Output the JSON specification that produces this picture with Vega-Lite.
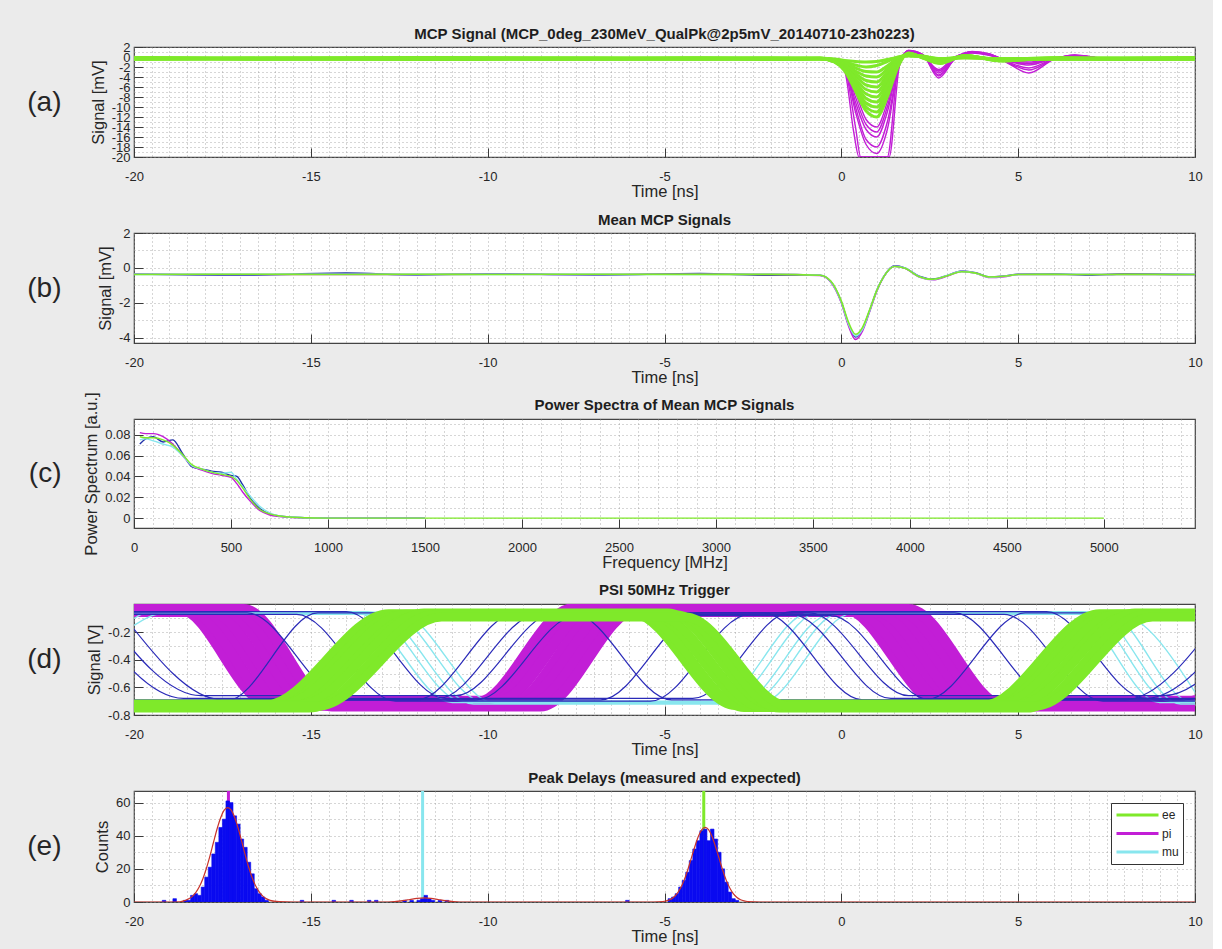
{
"$schema": "https://vega.github.io/schema/vega-lite/v6.json",
"background": "#ebebeb",
"padding": {"left": 26, "top": 26, "right": 10, "bottom": 5},
"autosize": {"type": "pad"},
"bounds": "flush",
"spacing": 76,
"config": {
 "font": "Liberation Sans",
 "view": {"fill": "#ffffff", "stroke": "#444444", "strokeWidth": 1.2},
 "title": {"font": "Liberation Sans", "fontSize": 15, "fontWeight": "bold", "color": "#1e1e1e", "offset": 6},
 "axis": {"labelFont": "Liberation Sans", "labelFontSize": 13, "labelColor": "#262626", "titleFont": "Liberation Sans", "titleFontSize": 16.5, "titleFontWeight": "normal", "titleColor": "#262626", "domain": false, "tickColor": "#3a3a3a", "tickWidth": 1, "tickSize": -9, "gridColor": "#9a9a9a", "gridDash": [1, 3], "gridWidth": 1, "gridOpacity": 0.8, "labelOverlap": false, "labelFlush": false, "labelBound": false},
 "axisX": {"labelPadding": 22, "titlePadding": 0},
 "axisY": {"labelPadding": 13, "titlePadding": 5}
},
"resolve": {"scale": {"color": "independent"}, "legend": {"color": "independent"}},
"datasets": {
 "a_pi": [
  {"i":"M1","t":-20,"v":-0.3},{"i":"M1","t":-12,"v":-0.3},{"i":"M1","t":-6,"v":-0.3},{"i":"M1","t":-2,"v":-0.3},{"i":"M1","t":-0.6,"v":-0.3},{"i":"M1","t":-0.2,"v":-0.5},{"i":"M1","t":0.1,"v":-1.5},{"i":"M1","t":0.4,"v":-7},{"i":"M1","t":0.7,"v":-12.5},{"i":"M1","t":1.0,"v":-14},{"i":"M1","t":1.3,"v":-9},{"i":"M1","t":1.6,"v":-1.5},{"i":"M1","t":1.9,"v":1.0},{"i":"M1","t":2.3,"v":0.3},{"i":"M1","t":2.75,"v":-2.5},{"i":"M1","t":3.2,"v":0.0},{"i":"M1","t":3.7,"v":0.8},{"i":"M1","t":4.2,"v":0.3},{"i":"M1","t":4.7,"v":-0.6},{"i":"M1","t":5.3,"v":-1.0},{"i":"M1","t":6.0,"v":-0.2},{"i":"M1","t":6.6,"v":0.2},{"i":"M1","t":7.5,"v":-0.3},{"i":"M1","t":10,"v":-0.3},
  {"i":"M2","t":-20,"v":-0.3},{"i":"M2","t":-12,"v":-0.3},{"i":"M2","t":-6,"v":-0.3},{"i":"M2","t":-2,"v":-0.3},{"i":"M2","t":-0.6,"v":-0.3},{"i":"M2","t":-0.2,"v":-0.5},{"i":"M2","t":0.1,"v":-1.8},{"i":"M2","t":0.4,"v":-9},{"i":"M2","t":0.7,"v":-14.5},{"i":"M2","t":1.0,"v":-16},{"i":"M2","t":1.3,"v":-11},{"i":"M2","t":1.6,"v":-2},{"i":"M2","t":1.9,"v":1.2},{"i":"M2","t":2.3,"v":0.4},{"i":"M2","t":2.75,"v":-3.2},{"i":"M2","t":3.2,"v":-0.2},{"i":"M2","t":3.7,"v":1.0},{"i":"M2","t":4.2,"v":0.5},{"i":"M2","t":4.7,"v":-0.8},{"i":"M2","t":5.3,"v":-1.6},{"i":"M2","t":6.0,"v":-0.3},{"i":"M2","t":6.6,"v":0.3},{"i":"M2","t":7.5,"v":-0.3},{"i":"M2","t":10,"v":-0.3},
  {"i":"M3","t":-20,"v":-0.3},{"i":"M3","t":-12,"v":-0.3},{"i":"M3","t":-6,"v":-0.4},{"i":"M3","t":-2,"v":-0.3},{"i":"M3","t":-0.6,"v":-0.3},{"i":"M3","t":-0.2,"v":-0.6},{"i":"M3","t":0.1,"v":-2},{"i":"M3","t":0.4,"v":-10},{"i":"M3","t":0.7,"v":-16.5},{"i":"M3","t":1.0,"v":-18},{"i":"M3","t":1.3,"v":-13},{"i":"M3","t":1.6,"v":-2.5},{"i":"M3","t":1.9,"v":1.3},{"i":"M3","t":2.3,"v":0.5},{"i":"M3","t":2.75,"v":-4.2},{"i":"M3","t":3.2,"v":-0.5},{"i":"M3","t":3.7,"v":1.1},{"i":"M3","t":4.2,"v":0.6},{"i":"M3","t":4.7,"v":-1.2},{"i":"M3","t":5.3,"v":-3.2},{"i":"M3","t":6.0,"v":-0.5},{"i":"M3","t":6.6,"v":0.4},{"i":"M3","t":7.5,"v":-0.3},{"i":"M3","t":10,"v":-0.3},
  {"i":"M4","t":-20,"v":-0.3},{"i":"M4","t":-12,"v":-0.3},{"i":"M4","t":-6,"v":-0.3},{"i":"M4","t":-2,"v":-0.3},{"i":"M4","t":-0.6,"v":-0.3},{"i":"M4","t":-0.2,"v":-0.6},{"i":"M4","t":0.1,"v":-2.5},{"i":"M4","t":0.4,"v":-14},{"i":"M4","t":0.55,"v":-20},{"i":"M4","t":1.0,"v":-20},{"i":"M4","t":1.3,"v":-20},{"i":"M4","t":1.6,"v":-2.5},{"i":"M4","t":1.9,"v":1.2},{"i":"M4","t":2.3,"v":0.5},{"i":"M4","t":2.75,"v":-3.6},{"i":"M4","t":3.2,"v":-0.4},{"i":"M4","t":3.7,"v":1.0},{"i":"M4","t":4.2,"v":0.4},{"i":"M4","t":4.7,"v":-1.0},{"i":"M4","t":5.3,"v":-2.2},{"i":"M4","t":6.0,"v":-0.4},{"i":"M4","t":6.6,"v":0.3},{"i":"M4","t":7.5,"v":-0.3},{"i":"M4","t":10,"v":-0.3},
  {"i":"M5","t":-20,"v":-0.3},{"i":"M5","t":-12,"v":-0.4},{"i":"M5","t":-6,"v":-0.3},{"i":"M5","t":-2,"v":-0.3},{"i":"M5","t":-0.6,"v":-0.3},{"i":"M5","t":-0.2,"v":-0.6},{"i":"M5","t":0.1,"v":-3},{"i":"M5","t":0.35,"v":-15},{"i":"M5","t":0.5,"v":-20},{"i":"M5","t":1.0,"v":-20},{"i":"M5","t":1.35,"v":-20},{"i":"M5","t":1.65,"v":-1.5},{"i":"M5","t":1.9,"v":1.1},{"i":"M5","t":2.3,"v":0.4},{"i":"M5","t":2.75,"v":-2.8},{"i":"M5","t":3.2,"v":-0.3},{"i":"M5","t":3.7,"v":0.9},{"i":"M5","t":4.2,"v":0.5},{"i":"M5","t":4.7,"v":-0.7},{"i":"M5","t":5.3,"v":-1.3},{"i":"M5","t":6.0,"v":-0.3},{"i":"M5","t":6.6,"v":0.2},{"i":"M5","t":7.5,"v":-0.3},{"i":"M5","t":10,"v":-0.3},
  {"i":"M6","t":-20,"v":-0.3},{"i":"M6","t":-12,"v":-0.3},{"i":"M6","t":-6,"v":-0.3},{"i":"M6","t":-2,"v":-0.3},{"i":"M6","t":-0.6,"v":-0.3},{"i":"M6","t":-0.2,"v":-0.5},{"i":"M6","t":0.1,"v":-1.6},{"i":"M6","t":0.4,"v":-8},{"i":"M6","t":0.7,"v":-13.5},{"i":"M6","t":1.0,"v":-15},{"i":"M6","t":1.3,"v":-10},{"i":"M6","t":1.6,"v":-1.8},{"i":"M6","t":1.9,"v":1.1},{"i":"M6","t":2.3,"v":0.35},{"i":"M6","t":2.75,"v":-2.8},{"i":"M6","t":3.2,"v":-0.1},{"i":"M6","t":3.7,"v":0.9},{"i":"M6","t":4.2,"v":0.4},{"i":"M6","t":4.7,"v":-0.7},{"i":"M6","t":5.3,"v":-1.3},{"i":"M6","t":6.0,"v":-0.25},{"i":"M6","t":6.6,"v":0.25},{"i":"M6","t":7.5,"v":-0.3},{"i":"M6","t":10,"v":-0.3},
  {"i":"M7","t":-20,"v":-0.3},{"i":"M7","t":-12,"v":-0.3},{"i":"M7","t":-6,"v":-0.3},{"i":"M7","t":-2,"v":-0.3},{"i":"M7","t":-0.6,"v":-0.3},{"i":"M7","t":-0.2,"v":-0.6},{"i":"M7","t":0.1,"v":-2.2},{"i":"M7","t":0.4,"v":-11},{"i":"M7","t":0.7,"v":-17.5},{"i":"M7","t":1.0,"v":-19.3},{"i":"M7","t":1.3,"v":-14.5},{"i":"M7","t":1.6,"v":-2.8},{"i":"M7","t":1.9,"v":1.3},{"i":"M7","t":2.3,"v":0.5},{"i":"M7","t":2.75,"v":-3.8},{"i":"M7","t":3.2,"v":-0.45},{"i":"M7","t":3.7,"v":1.05},{"i":"M7","t":4.2,"v":0.55},{"i":"M7","t":4.7,"v":-1.1},{"i":"M7","t":5.3,"v":-2.6},{"i":"M7","t":6.0,"v":-0.45},{"i":"M7","t":6.6,"v":0.35},{"i":"M7","t":7.5,"v":-0.3},{"i":"M7","t":10,"v":-0.3}
 ],
 "a_ee": [
  {"i":"G1","t":-20,"v":-0.3},{"i":"G1","t":-16,"v":-0.2},{"i":"G1","t":-12,"v":-0.35},{"i":"G1","t":-8,"v":-0.25},{"i":"G1","t":-4,"v":-0.3},{"i":"G1","t":-2,"v":-0.3},{"i":"G1","t":-0.6,"v":-0.3},{"i":"G1","t":-0.2,"v":-0.5},{"i":"G1","t":0.1,"v":-1.0},{"i":"G1","t":0.4,"v":-1.6},{"i":"G1","t":0.7,"v":-2.0},{"i":"G1","t":1.0,"v":-1.7},{"i":"G1","t":1.3,"v":-0.9},{"i":"G1","t":1.6,"v":0.0},{"i":"G1","t":1.9,"v":0.3},{"i":"G1","t":2.3,"v":0.1},{"i":"G1","t":2.8,"v":-0.3},{"i":"G1","t":3.5,"v":-0.1},{"i":"G1","t":4.5,"v":-0.35},{"i":"G1","t":6,"v":-0.25},{"i":"G1","t":8,"v":-0.3},{"i":"G1","t":10,"v":-0.3},
  {"i":"G2","t":-20,"v":-0.1},{"i":"G2","t":-16,"v":-0.3},{"i":"G2","t":-12,"v":-0.1},{"i":"G2","t":-8,"v":-0.2},{"i":"G2","t":-4,"v":-0.15},{"i":"G2","t":-2,"v":-0.2},{"i":"G2","t":-0.6,"v":-0.2},{"i":"G2","t":-0.2,"v":-0.5},{"i":"G2","t":0.1,"v":-1.4},{"i":"G2","t":0.4,"v":-2.8},{"i":"G2","t":0.7,"v":-3.8},{"i":"G2","t":1.0,"v":-4.0},{"i":"G2","t":1.3,"v":-2.4},{"i":"G2","t":1.6,"v":-0.3},{"i":"G2","t":1.9,"v":0.4},{"i":"G2","t":2.3,"v":0.2},{"i":"G2","t":2.8,"v":-0.5},{"i":"G2","t":3.5,"v":0.0},{"i":"G2","t":4.5,"v":-0.4},{"i":"G2","t":6,"v":-0.15},{"i":"G2","t":8,"v":-0.2},{"i":"G2","t":10,"v":-0.1},
  {"i":"G3","t":-20,"v":-0.45},{"i":"G3","t":-16,"v":-0.4},{"i":"G3","t":-12,"v":-0.5},{"i":"G3","t":-8,"v":-0.45},{"i":"G3","t":-4,"v":-0.4},{"i":"G3","t":-2,"v":-0.5},{"i":"G3","t":-0.6,"v":-0.45},{"i":"G3","t":-0.2,"v":-0.7},{"i":"G3","t":0.1,"v":-1.8},{"i":"G3","t":0.4,"v":-3.8},{"i":"G3","t":0.7,"v":-5.6},{"i":"G3","t":1.0,"v":-6.0},{"i":"G3","t":1.3,"v":-3.6},{"i":"G3","t":1.6,"v":-0.5},{"i":"G3","t":1.9,"v":0.5},{"i":"G3","t":2.3,"v":0.1},{"i":"G3","t":2.8,"v":-0.7},{"i":"G3","t":3.5,"v":0.1},{"i":"G3","t":4.5,"v":-0.55},{"i":"G3","t":6,"v":-0.4},{"i":"G3","t":8,"v":-0.5},{"i":"G3","t":10,"v":-0.45},
  {"i":"G4","t":-20,"v":-0.25},{"i":"G4","t":-16,"v":-0.3},{"i":"G4","t":-12,"v":-0.25},{"i":"G4","t":-8,"v":-0.35},{"i":"G4","t":-4,"v":-0.3},{"i":"G4","t":-2,"v":-0.25},{"i":"G4","t":-0.6,"v":-0.3},{"i":"G4","t":-0.2,"v":-0.8},{"i":"G4","t":0.1,"v":-2.2},{"i":"G4","t":0.4,"v":-5.0},{"i":"G4","t":0.7,"v":-7.4},{"i":"G4","t":1.0,"v":-8.0},{"i":"G4","t":1.3,"v":-5.0},{"i":"G4","t":1.6,"v":-1.0},{"i":"G4","t":1.9,"v":0.6},{"i":"G4","t":2.3,"v":0.0},{"i":"G4","t":2.8,"v":-0.9},{"i":"G4","t":3.5,"v":0.2},{"i":"G4","t":4.5,"v":-0.6},{"i":"G4","t":6,"v":-0.3},{"i":"G4","t":8,"v":-0.25},{"i":"G4","t":10,"v":-0.3},
  {"i":"G5","t":-20,"v":-0.35},{"i":"G5","t":-16,"v":-0.3},{"i":"G5","t":-12,"v":-0.4},{"i":"G5","t":-8,"v":-0.3},{"i":"G5","t":-4,"v":-0.35},{"i":"G5","t":-2,"v":-0.3},{"i":"G5","t":-0.6,"v":-0.35},{"i":"G5","t":-0.2,"v":-0.9},{"i":"G5","t":0.1,"v":-2.5},{"i":"G5","t":0.4,"v":-6.0},{"i":"G5","t":0.7,"v":-9.2},{"i":"G5","t":1.0,"v":-10.0},{"i":"G5","t":1.3,"v":-6.5},{"i":"G5","t":1.6,"v":-1.5},{"i":"G5","t":1.9,"v":0.7},{"i":"G5","t":2.3,"v":-0.1},{"i":"G5","t":2.8,"v":-1.1},{"i":"G5","t":3.5,"v":0.3},{"i":"G5","t":4.5,"v":-0.7},{"i":"G5","t":6,"v":-0.35},{"i":"G5","t":8,"v":-0.3},{"i":"G5","t":10,"v":-0.35},
  {"i":"G6","t":-20,"v":-0.2},{"i":"G6","t":-16,"v":-0.25},{"i":"G6","t":-12,"v":-0.2},{"i":"G6","t":-8,"v":-0.25},{"i":"G6","t":-4,"v":-0.2},{"i":"G6","t":-2,"v":-0.2},{"i":"G6","t":-0.6,"v":-0.25},{"i":"G6","t":-0.2,"v":-1.0},{"i":"G6","t":0.1,"v":-2.8},{"i":"G6","t":0.4,"v":-6.8},{"i":"G6","t":0.7,"v":-10.8},{"i":"G6","t":1.0,"v":-12.0},{"i":"G6","t":1.3,"v":-8.0},{"i":"G6","t":1.6,"v":-2.0},{"i":"G6","t":1.9,"v":0.8},{"i":"G6","t":2.3,"v":-0.2},{"i":"G6","t":2.8,"v":-1.3},{"i":"G6","t":3.5,"v":0.3},{"i":"G6","t":4.5,"v":-0.8},{"i":"G6","t":6,"v":-0.2},{"i":"G6","t":8,"v":-0.25},{"i":"G6","t":10,"v":-0.2},
  {"i":"G7","t":-20,"v":-0.15},{"i":"G7","t":-16,"v":-0.35},{"i":"G7","t":-12,"v":-0.2},{"i":"G7","t":-8,"v":-0.3},{"i":"G7","t":-4,"v":-0.25},{"i":"G7","t":-2,"v":-0.35},{"i":"G7","t":-0.6,"v":-0.3},{"i":"G7","t":-0.2,"v":-0.4},{"i":"G7","t":0.1,"v":-0.7},{"i":"G7","t":0.4,"v":-0.9},{"i":"G7","t":0.7,"v":-1.0},{"i":"G7","t":1.0,"v":-0.9},{"i":"G7","t":1.3,"v":-0.5},{"i":"G7","t":1.6,"v":-0.1},{"i":"G7","t":1.9,"v":0.2},{"i":"G7","t":2.3,"v":0.0},{"i":"G7","t":2.8,"v":-0.3},{"i":"G7","t":3.5,"v":-0.2},{"i":"G7","t":4.5,"v":-0.3},{"i":"G7","t":6,"v":-0.3},{"i":"G7","t":8,"v":-0.35},{"i":"G7","t":10,"v":-0.25},
  {"i":"G8","t":-20,"v":-0.4},{"i":"G8","t":-16,"v":-0.25},{"i":"G8","t":-12,"v":-0.3},{"i":"G8","t":-8,"v":-0.4},{"i":"G8","t":-4,"v":-0.35},{"i":"G8","t":-2,"v":-0.25},{"i":"G8","t":-0.6,"v":-0.3},{"i":"G8","t":-0.2,"v":-0.55},{"i":"G8","t":0.1,"v":-1.2},{"i":"G8","t":0.4,"v":-2.2},{"i":"G8","t":0.7,"v":-2.9},{"i":"G8","t":1.0,"v":-3.0},{"i":"G8","t":1.3,"v":-1.8},{"i":"G8","t":1.6,"v":-0.2},{"i":"G8","t":1.9,"v":0.35},{"i":"G8","t":2.3,"v":0.15},{"i":"G8","t":2.8,"v":-0.4},{"i":"G8","t":3.5,"v":-0.05},{"i":"G8","t":4.5,"v":-0.4},{"i":"G8","t":6,"v":-0.3},{"i":"G8","t":8,"v":-0.4},{"i":"G8","t":10,"v":-0.35},
  {"i":"G9","t":-20,"v":-0.3},{"i":"G9","t":-16,"v":-0.45},{"i":"G9","t":-12,"v":-0.35},{"i":"G9","t":-8,"v":-0.3},{"i":"G9","t":-4,"v":-0.45},{"i":"G9","t":-2,"v":-0.4},{"i":"G9","t":-0.6,"v":-0.35},{"i":"G9","t":-0.2,"v":-0.6},{"i":"G9","t":0.1,"v":-1.6},{"i":"G9","t":0.4,"v":-3.3},{"i":"G9","t":0.7,"v":-4.7},{"i":"G9","t":1.0,"v":-5.0},{"i":"G9","t":1.3,"v":-3.0},{"i":"G9","t":1.6,"v":-0.4},{"i":"G9","t":1.9,"v":0.45},{"i":"G9","t":2.3,"v":0.1},{"i":"G9","t":2.8,"v":-0.6},{"i":"G9","t":3.5,"v":0.05},{"i":"G9","t":4.5,"v":-0.5},{"i":"G9","t":6,"v":-0.45},{"i":"G9","t":8,"v":-0.35},{"i":"G9","t":10,"v":-0.4},
  {"i":"G10","t":-20,"v":-0.2},{"i":"G10","t":-16,"v":-0.35},{"i":"G10","t":-12,"v":-0.4},{"i":"G10","t":-8,"v":-0.2},{"i":"G10","t":-4,"v":-0.3},{"i":"G10","t":-2,"v":-0.35},{"i":"G10","t":-0.6,"v":-0.2},{"i":"G10","t":-0.2,"v":-0.75},{"i":"G10","t":0.1,"v":-2.0},{"i":"G10","t":0.4,"v":-4.4},{"i":"G10","t":0.7,"v":-6.5},{"i":"G10","t":1.0,"v":-7.0},{"i":"G10","t":1.3,"v":-4.3},{"i":"G10","t":1.6,"v":-0.7},{"i":"G10","t":1.9,"v":0.55},{"i":"G10","t":2.3,"v":0.05},{"i":"G10","t":2.8,"v":-0.8},{"i":"G10","t":3.5,"v":0.15},{"i":"G10","t":4.5,"v":-0.6},{"i":"G10","t":6,"v":-0.2},{"i":"G10","t":8,"v":-0.3},{"i":"G10","t":10,"v":-0.2},
  {"i":"G11","t":-20,"v":-0.45},{"i":"G11","t":-16,"v":-0.2},{"i":"G11","t":-12,"v":-0.3},{"i":"G11","t":-8,"v":-0.45},{"i":"G11","t":-4,"v":-0.25},{"i":"G11","t":-2,"v":-0.4},{"i":"G11","t":-0.6,"v":-0.4},{"i":"G11","t":-0.2,"v":-0.85},{"i":"G11","t":0.1,"v":-2.3},{"i":"G11","t":0.4,"v":-5.5},{"i":"G11","t":0.7,"v":-8.3},{"i":"G11","t":1.0,"v":-9.0},{"i":"G11","t":1.3,"v":-5.8},{"i":"G11","t":1.6,"v":-1.2},{"i":"G11","t":1.9,"v":0.65},{"i":"G11","t":2.3,"v":-0.05},{"i":"G11","t":2.8,"v":-1.0},{"i":"G11","t":3.5,"v":0.25},{"i":"G11","t":4.5,"v":-0.65},{"i":"G11","t":6,"v":-0.4},{"i":"G11","t":8,"v":-0.45},{"i":"G11","t":10,"v":-0.3},
  {"i":"G12","t":-20,"v":-0.3},{"i":"G12","t":-16,"v":-0.4},{"i":"G12","t":-12,"v":-0.25},{"i":"G12","t":-8,"v":-0.35},{"i":"G12","t":-4,"v":-0.4},{"i":"G12","t":-2,"v":-0.3},{"i":"G12","t":-0.6,"v":-0.3},{"i":"G12","t":-0.2,"v":-0.95},{"i":"G12","t":0.1,"v":-2.6},{"i":"G12","t":0.4,"v":-6.4},{"i":"G12","t":0.7,"v":-10.0},{"i":"G12","t":1.0,"v":-11.0},{"i":"G12","t":1.3,"v":-7.2},{"i":"G12","t":1.6,"v":-1.7},{"i":"G12","t":1.9,"v":0.75},{"i":"G12","t":2.3,"v":-0.15},{"i":"G12","t":2.8,"v":-1.2},{"i":"G12","t":3.5,"v":0.3},{"i":"G12","t":4.5,"v":-0.75},{"i":"G12","t":6,"v":-0.3},{"i":"G12","t":8,"v":-0.35},{"i":"G12","t":10,"v":-0.4}
 ],
 "b_rest": [
  {"s":"bl","t":-20,"v":-0.35},{"s":"bl","t":-17,"v":-0.42},{"s":"bl","t":-14,"v":-0.3},{"s":"bl","t":-12,"v":-0.4},{"s":"bl","t":-10,"v":-0.33},{"s":"bl","t":-7,"v":-0.4},{"s":"bl","t":-4,"v":-0.32},{"s":"bl","t":-2,"v":-0.42},{"s":"bl","t":-0.6,"v":-0.42},{"s":"bl","t":-0.3,"v":-0.78},{"s":"bl","t":0,"v":-1.95},{"s":"bl","t":0.2,"v":-3.2},{"s":"bl","t":0.4,"v":-3.95},{"s":"bl","t":0.6,"v":-3.5},{"s":"bl","t":0.8,"v":-2.45},{"s":"bl","t":1.0,"v":-1.3},{"s":"bl","t":1.2,"v":-0.5},{"s":"bl","t":1.5,"v":0.12},{"s":"bl","t":1.8,"v":0},{"s":"bl","t":2.2,"v":-0.48},{"s":"bl","t":2.6,"v":-0.64},{"s":"bl","t":3.0,"v":-0.43},{"s":"bl","t":3.4,"v":-0.18},{"s":"bl","t":3.8,"v":-0.28},{"s":"bl","t":4.2,"v":-0.52},{"s":"bl","t":4.6,"v":-0.46},{"s":"bl","t":5.0,"v":-0.36},{"s":"bl","t":6,"v":-0.33},{"s":"bl","t":7,"v":-0.42},{"s":"bl","t":8,"v":-0.34},{"s":"bl","t":10,"v":-0.38},
  {"s":"pi","t":-20,"v":-0.36},{"s":"pi","t":-17,"v":-0.38},{"s":"pi","t":-14,"v":-0.37},{"s":"pi","t":-12,"v":-0.38},{"s":"pi","t":-10,"v":-0.36},{"s":"pi","t":-7,"v":-0.38},{"s":"pi","t":-4,"v":-0.36},{"s":"pi","t":-2,"v":-0.37},{"s":"pi","t":-0.6,"v":-0.43},{"s":"pi","t":-0.3,"v":-0.8},{"s":"pi","t":0,"v":-2.0},{"s":"pi","t":0.2,"v":-3.3},{"s":"pi","t":0.4,"v":-4.1},{"s":"pi","t":0.6,"v":-3.6},{"s":"pi","t":0.8,"v":-2.5},{"s":"pi","t":1.0,"v":-1.35},{"s":"pi","t":1.2,"v":-0.5},{"s":"pi","t":1.5,"v":0.1},{"s":"pi","t":1.8,"v":-0.02},{"s":"pi","t":2.2,"v":-0.52},{"s":"pi","t":2.6,"v":-0.68},{"s":"pi","t":3.0,"v":-0.46},{"s":"pi","t":3.4,"v":-0.2},{"s":"pi","t":3.8,"v":-0.3},{"s":"pi","t":4.2,"v":-0.55},{"s":"pi","t":4.6,"v":-0.5},{"s":"pi","t":5.0,"v":-0.38},{"s":"pi","t":6,"v":-0.37},{"s":"pi","t":7,"v":-0.38},{"s":"pi","t":8,"v":-0.37},{"s":"pi","t":10,"v":-0.38},
  {"s":"mu","t":-20,"v":-0.37},{"s":"mu","t":-17,"v":-0.37},{"s":"mu","t":-14,"v":-0.36},{"s":"mu","t":-12,"v":-0.37},{"s":"mu","t":-10,"v":-0.37},{"s":"mu","t":-7,"v":-0.37},{"s":"mu","t":-4,"v":-0.38},{"s":"mu","t":-2,"v":-0.36},{"s":"mu","t":-0.6,"v":-0.42},{"s":"mu","t":-0.3,"v":-0.78},{"s":"mu","t":0,"v":-1.95},{"s":"mu","t":0.2,"v":-3.2},{"s":"mu","t":0.4,"v":-3.9},{"s":"mu","t":0.6,"v":-3.5},{"s":"mu","t":0.8,"v":-2.45},{"s":"mu","t":1.0,"v":-1.3},{"s":"mu","t":1.2,"v":-0.48},{"s":"mu","t":1.5,"v":0.1},{"s":"mu","t":1.8,"v":0},{"s":"mu","t":2.2,"v":-0.5},{"s":"mu","t":2.6,"v":-0.66},{"s":"mu","t":3.0,"v":-0.44},{"s":"mu","t":3.4,"v":-0.2},{"s":"mu","t":3.8,"v":-0.3},{"s":"mu","t":4.2,"v":-0.53},{"s":"mu","t":4.6,"v":-0.48},{"s":"mu","t":5.0,"v":-0.38},{"s":"mu","t":6,"v":-0.37},{"s":"mu","t":7,"v":-0.37},{"s":"mu","t":8,"v":-0.38},{"s":"mu","t":10,"v":-0.37}
 ],
 "b_ee": [
  {"t":-20,"v":-0.38},{"t":-17,"v":-0.36},{"t":-14,"v":-0.38},{"t":-12,"v":-0.36},{"t":-10,"v":-0.38},{"t":-7,"v":-0.36},{"t":-4,"v":-0.37},{"t":-2,"v":-0.37},{"t":-0.6,"v":-0.42},{"t":-0.3,"v":-0.75},{"t":0,"v":-1.9},{"t":0.2,"v":-3.1},{"t":0.4,"v":-3.8},{"t":0.6,"v":-3.4},{"t":0.8,"v":-2.4},{"t":1.0,"v":-1.3},{"t":1.2,"v":-0.5},{"t":1.5,"v":0.08},{"t":1.8,"v":-0.02},{"t":2.2,"v":-0.5},{"t":2.6,"v":-0.65},{"t":3.0,"v":-0.45},{"t":3.4,"v":-0.22},{"t":3.8,"v":-0.3},{"t":4.2,"v":-0.52},{"t":4.6,"v":-0.48},{"t":5.0,"v":-0.38},{"t":6,"v":-0.37},{"t":7,"v":-0.38},{"t":8,"v":-0.37},{"t":10,"v":-0.38}
 ],
 "c_rest": [
  {"s":"bl","f":30,"v":0.071},{"s":"bl","f":60,"v":0.076},{"s":"bl","f":100,"v":0.078},{"s":"bl","f":150,"v":0.073},{"s":"bl","f":200,"v":0.075},{"s":"bl","f":250,"v":0.062},{"s":"bl","f":300,"v":0.049},{"s":"bl","f":350,"v":0.047},{"s":"bl","f":400,"v":0.045},{"s":"bl","f":450,"v":0.044},{"s":"bl","f":500,"v":0.041},{"s":"bl","f":530,"v":0.04},{"s":"bl","f":560,"v":0.032},{"s":"bl","f":600,"v":0.019},{"s":"bl","f":650,"v":0.009},{"s":"bl","f":700,"v":0.004},{"s":"bl","f":750,"v":0.002},{"s":"bl","f":800,"v":0.001},{"s":"bl","f":900,"v":0.0003},{"s":"bl","f":1000,"v":0},{"s":"bl","f":1500,"v":0},
  {"s":"pi","f":30,"v":0.082},{"s":"pi","f":60,"v":0.081},{"s":"pi","f":100,"v":0.081},{"s":"pi","f":150,"v":0.078},{"s":"pi","f":200,"v":0.071},{"s":"pi","f":250,"v":0.06},{"s":"pi","f":300,"v":0.05},{"s":"pi","f":350,"v":0.046},{"s":"pi","f":400,"v":0.043},{"s":"pi","f":450,"v":0.041},{"s":"pi","f":500,"v":0.039},{"s":"pi","f":530,"v":0.033},{"s":"pi","f":560,"v":0.025},{"s":"pi","f":600,"v":0.016},{"s":"pi","f":650,"v":0.007},{"s":"pi","f":700,"v":0.003},{"s":"pi","f":750,"v":0.0015},{"s":"pi","f":800,"v":0.0007},{"s":"pi","f":900,"v":0.0002},{"s":"pi","f":1000,"v":0},{"s":"pi","f":1500,"v":0},
  {"s":"mu","f":30,"v":0.075},{"s":"mu","f":60,"v":0.076},{"s":"mu","f":100,"v":0.074},{"s":"mu","f":150,"v":0.071},{"s":"mu","f":200,"v":0.068},{"s":"mu","f":250,"v":0.06},{"s":"mu","f":300,"v":0.05},{"s":"mu","f":350,"v":0.047},{"s":"mu","f":400,"v":0.044},{"s":"mu","f":450,"v":0.043},{"s":"mu","f":500,"v":0.044},{"s":"mu","f":530,"v":0.037},{"s":"mu","f":560,"v":0.03},{"s":"mu","f":600,"v":0.021},{"s":"mu","f":650,"v":0.011},{"s":"mu","f":700,"v":0.005},{"s":"mu","f":750,"v":0.002},{"s":"mu","f":800,"v":0.001},{"s":"mu","f":900,"v":0.0003},{"s":"mu","f":1000,"v":0},{"s":"mu","f":1500,"v":0}
 ],
 "c_ee": [
  {"f":30,"v":0.078},{"f":60,"v":0.077},{"f":100,"v":0.077},{"f":150,"v":0.075},{"f":200,"v":0.07},{"f":250,"v":0.061},{"f":300,"v":0.051},{"f":350,"v":0.047},{"f":400,"v":0.044},{"f":450,"v":0.042},{"f":500,"v":0.04},{"f":530,"v":0.036},{"f":560,"v":0.029},{"f":600,"v":0.018},{"f":650,"v":0.008},{"f":700,"v":0.004},{"f":750,"v":0.002},{"f":800,"v":0.001},{"f":900,"v":0.0003},{"f":1000,"v":0},{"f":1500,"v":0},{"f":2000,"v":0},{"f":3000,"v":0},{"f":4000,"v":0},{"f":5000,"v":0}
 ],
 "d_pi": [
  {"i":"P1","t":-20,"v":-0.03},{"i":"P1","t":-18.7,"v":-0.03},{"i":"P1","t":-16.2,"v":-0.71},{"i":"P1","t":-10.3,"v":-0.71},{"i":"P1","t":-7.6,"v":-0.03},{"i":"P1","t":0.1,"v":-0.03},{"i":"P1","t":2.8,"v":-0.71},{"i":"P1","t":9.7,"v":-0.71},{"i":"P1","t":12.4,"v":-0.03},
  {"i":"P2","t":-20,"v":-0.045},{"i":"P2","t":-18.4,"v":-0.045},{"i":"P2","t":-15.9,"v":-0.725},{"i":"P2","t":-10.0,"v":-0.725},{"i":"P2","t":-7.3,"v":-0.045},{"i":"P2","t":0.4,"v":-0.045},{"i":"P2","t":3.1,"v":-0.725},{"i":"P2","t":10,"v":-0.725},
  {"i":"P3","t":-20,"v":-0.035},{"i":"P3","t":-18.1,"v":-0.035},{"i":"P3","t":-15.6,"v":-0.70},{"i":"P3","t":-9.7,"v":-0.70},{"i":"P3","t":-7.0,"v":-0.035},{"i":"P3","t":0.7,"v":-0.035},{"i":"P3","t":3.4,"v":-0.70},{"i":"P3","t":10,"v":-0.70},
  {"i":"P4","t":-20,"v":-0.05},{"i":"P4","t":-17.8,"v":-0.05},{"i":"P4","t":-15.3,"v":-0.73},{"i":"P4","t":-9.4,"v":-0.73},{"i":"P4","t":-6.7,"v":-0.05},{"i":"P4","t":1.0,"v":-0.05},{"i":"P4","t":3.7,"v":-0.73},{"i":"P4","t":10,"v":-0.73},
  {"i":"P5","t":-20,"v":-0.03},{"i":"P5","t":-17.5,"v":-0.03},{"i":"P5","t":-15.0,"v":-0.715},{"i":"P5","t":-9.1,"v":-0.715},{"i":"P5","t":-6.4,"v":-0.03},{"i":"P5","t":1.3,"v":-0.03},{"i":"P5","t":4.0,"v":-0.715},{"i":"P5","t":10,"v":-0.715},
  {"i":"P6","t":-20,"v":-0.04},{"i":"P6","t":-17.2,"v":-0.04},{"i":"P6","t":-14.7,"v":-0.72},{"i":"P6","t":-8.8,"v":-0.72},{"i":"P6","t":-6.1,"v":-0.04},{"i":"P6","t":1.6,"v":-0.04},{"i":"P6","t":4.3,"v":-0.72},{"i":"P6","t":10,"v":-0.72},
  {"i":"P7","t":-20,"v":-0.035},{"i":"P7","t":-16.9,"v":-0.035},{"i":"P7","t":-14.4,"v":-0.735},{"i":"P7","t":-8.5,"v":-0.735},{"i":"P7","t":-5.8,"v":-0.035},{"i":"P7","t":1.9,"v":-0.035},{"i":"P7","t":4.6,"v":-0.735},{"i":"P7","t":10,"v":-0.735}
 ],
 "d_mu": [
  {"i":"C1","t":-20,"v":-0.06},{"i":"C1","t":-13.7,"v":-0.06},{"i":"C1","t":-11.0,"v":-0.71},{"i":"C1","t":-3.5,"v":-0.71},{"i":"C1","t":-0.9,"v":-0.06},{"i":"C1","t":6.6,"v":-0.06},{"i":"C1","t":9.0,"v":-0.71},{"i":"C1","t":10,"v":-0.71},
  {"i":"C2","t":-20,"v":-0.05},{"i":"C2","t":-13.4,"v":-0.05},{"i":"C2","t":-10.7,"v":-0.70},{"i":"C2","t":-3.2,"v":-0.70},{"i":"C2","t":-0.6,"v":-0.05},{"i":"C2","t":6.9,"v":-0.05},{"i":"C2","t":9.3,"v":-0.70},{"i":"C2","t":10,"v":-0.70},
  {"i":"C3","t":-20,"v":-0.07},{"i":"C3","t":-13.1,"v":-0.07},{"i":"C3","t":-10.4,"v":-0.72},{"i":"C3","t":-2.9,"v":-0.72},{"i":"C3","t":-0.3,"v":-0.07},{"i":"C3","t":7.2,"v":-0.07},{"i":"C3","t":9.6,"v":-0.72},{"i":"C3","t":10,"v":-0.72},
  {"i":"C4","t":-20,"v":-0.1},{"i":"C4","t":-19.6,"v":-0.055},{"i":"C4","t":-12.8,"v":-0.055},{"i":"C4","t":-10.1,"v":-0.705},{"i":"C4","t":-2.6,"v":-0.705},{"i":"C4","t":0.0,"v":-0.055},{"i":"C4","t":7.5,"v":-0.055},{"i":"C4","t":9.9,"v":-0.705},{"i":"C4","t":10,"v":-0.705},
  {"i":"C5","t":-20,"v":-0.15},{"i":"C5","t":-19.2,"v":-0.065},{"i":"C5","t":-12.5,"v":-0.065},{"i":"C5","t":-9.8,"v":-0.715},{"i":"C5","t":-2.3,"v":-0.715},{"i":"C5","t":0.3,"v":-0.065},{"i":"C5","t":7.8,"v":-0.065},{"i":"C5","t":10.2,"v":-0.715}
 ],
 "d_bl": [
  {"i":"B1","t":-21.4,"v":-0.06},{"i":"B1","t":-18.6,"v":-0.68},{"i":"B1","t":-11.4,"v":-0.68},{"i":"B1","t":-8.6,"v":-0.07},{"i":"B1","t":-1.4,"v":-0.07},{"i":"B1","t":1.4,"v":-0.68},{"i":"B1","t":8.6,"v":-0.68},{"i":"B1","t":11.4,"v":-0.07},
  {"i":"B2","t":-20.9,"v":-0.06},{"i":"B2","t":-18.1,"v":-0.66},{"i":"B2","t":-10.9,"v":-0.66},{"i":"B2","t":-8.1,"v":-0.06},{"i":"B2","t":-0.9,"v":-0.06},{"i":"B2","t":1.9,"v":-0.66},{"i":"B2","t":9.1,"v":-0.66},{"i":"B2","t":11.9,"v":-0.06},
  {"i":"B3","t":-20.3,"v":-0.08},{"i":"B3","t":-17.5,"v":-0.69},{"i":"B3","t":-10.3,"v":-0.69},{"i":"B3","t":-7.5,"v":-0.08},{"i":"B3","t":-0.3,"v":-0.08},{"i":"B3","t":2.5,"v":-0.69},{"i":"B3","t":9.7,"v":-0.69},{"i":"B3","t":12.5,"v":-0.08},
  {"i":"B4","t":-20,"v":-0.06},{"i":"B4","t":-16.8,"v":-0.06},{"i":"B4","t":-14.0,"v":-0.69},{"i":"B4","t":-6.8,"v":-0.69},{"i":"B4","t":-4.0,"v":-0.06},{"i":"B4","t":3.2,"v":-0.06},{"i":"B4","t":6.0,"v":-0.69},{"i":"B4","t":10,"v":-0.69},
  {"i":"B5","t":-20,"v":-0.07},{"i":"B5","t":-15.4,"v":-0.07},{"i":"B5","t":-12.6,"v":-0.70},{"i":"B5","t":-5.4,"v":-0.70},{"i":"B5","t":-2.6,"v":-0.07},{"i":"B5","t":4.6,"v":-0.07},{"i":"B5","t":7.4,"v":-0.70},{"i":"B5","t":10,"v":-0.70},
  {"i":"B6","t":-20,"v":-0.05},{"i":"B6","t":-14.0,"v":-0.05},{"i":"B6","t":-11.2,"v":-0.68},{"i":"B6","t":-4.2,"v":-0.68},{"i":"B6","t":-1.4,"v":-0.05},{"i":"B6","t":5.8,"v":-0.05},{"i":"B6","t":8.6,"v":-0.68},{"i":"B6","t":10,"v":-0.68},
  {"i":"B7","t":-20,"v":-0.70},{"i":"B7","t":-17.4,"v":-0.70},{"i":"B7","t":-14.8,"v":-0.06},{"i":"B7","t":-7.6,"v":-0.06},{"i":"B7","t":-4.8,"v":-0.69},{"i":"B7","t":2.4,"v":-0.69},{"i":"B7","t":5.2,"v":-0.06},{"i":"B7","t":10,"v":-0.06},
  {"i":"B8","t":-20,"v":-0.69},{"i":"B8","t":-12.0,"v":-0.69},{"i":"B8","t":-9.2,"v":-0.06},{"i":"B8","t":-2.2,"v":-0.06},{"i":"B8","t":0.6,"v":-0.69},{"i":"B8","t":8.0,"v":-0.69},{"i":"B8","t":10.8,"v":-0.06}
 ],
 "d_ee": [
  {"i":"E1","t":-20,"v":-0.73},{"i":"E1","t":-16.3,"v":-0.73},{"i":"E1","t":-12.8,"v":-0.065},{"i":"E1","t":-5.9,"v":-0.065},{"i":"E1","t":-3.0,"v":-0.73},{"i":"E1","t":4.0,"v":-0.73},{"i":"E1","t":7.3,"v":-0.065},{"i":"E1","t":10,"v":-0.065},
  {"i":"E2","t":-20,"v":-0.745},{"i":"E2","t":-16.05,"v":-0.745},{"i":"E2","t":-12.55,"v":-0.08},{"i":"E2","t":-5.65,"v":-0.08},{"i":"E2","t":-2.75,"v":-0.745},{"i":"E2","t":4.25,"v":-0.745},{"i":"E2","t":7.55,"v":-0.08},{"i":"E2","t":10,"v":-0.08},
  {"i":"E3","t":-20,"v":-0.72},{"i":"E3","t":-15.8,"v":-0.72},{"i":"E3","t":-12.3,"v":-0.07},{"i":"E3","t":-5.4,"v":-0.07},{"i":"E3","t":-2.5,"v":-0.72},{"i":"E3","t":4.5,"v":-0.72},{"i":"E3","t":7.8,"v":-0.07},{"i":"E3","t":10,"v":-0.07},
  {"i":"E4","t":-20,"v":-0.74},{"i":"E4","t":-15.55,"v":-0.74},{"i":"E4","t":-12.05,"v":-0.085},{"i":"E4","t":-5.15,"v":-0.085},{"i":"E4","t":-2.25,"v":-0.74},{"i":"E4","t":4.75,"v":-0.74},{"i":"E4","t":8.05,"v":-0.085},{"i":"E4","t":10,"v":-0.085},
  {"i":"E5","t":-20,"v":-0.725},{"i":"E5","t":-15.3,"v":-0.725},{"i":"E5","t":-11.8,"v":-0.06},{"i":"E5","t":-4.9,"v":-0.06},{"i":"E5","t":-2.0,"v":-0.725},{"i":"E5","t":5.0,"v":-0.725},{"i":"E5","t":8.3,"v":-0.06},{"i":"E5","t":10,"v":-0.06},
  {"i":"E6","t":-20,"v":-0.75},{"i":"E6","t":-15.05,"v":-0.75},{"i":"E6","t":-11.55,"v":-0.075},{"i":"E6","t":-4.65,"v":-0.075},{"i":"E6","t":-1.75,"v":-0.75},{"i":"E6","t":5.25,"v":-0.75},{"i":"E6","t":8.55,"v":-0.075},{"i":"E6","t":10,"v":-0.075},
  {"i":"E7","t":-20,"v":-0.735},{"i":"E7","t":-14.8,"v":-0.735},{"i":"E7","t":-11.3,"v":-0.09},{"i":"E7","t":-4.4,"v":-0.09},{"i":"E7","t":-1.5,"v":-0.735},{"i":"E7","t":5.5,"v":-0.735},{"i":"E7","t":8.8,"v":-0.09},{"i":"E7","t":10,"v":-0.09}
 ],
 "e_rules": [
  {"p":"ee","t":-3.89},{"p":"pi","t":-17.33},{"p":"mu","t":-11.84}
 ],
 "e_hist": [
  {"t":-19.2,"t1":-19.1,"n":1},{"t":-18.9,"t1":-18.8,"n":2},{"t":-18.6,"t1":-18.5,"n":1},{"t":-18.5,"t1":-18.4,"n":1},{"t":-18.4,"t1":-18.3,"n":4},{"t":-18.3,"t1":-18.2,"n":5},{"t":-18.2,"t1":-18.1,"n":4},{"t":-18.1,"t1":-18.0,"n":9},{"t":-18.0,"t1":-17.9,"n":15},{"t":-17.9,"t1":-17.8,"n":21},{"t":-17.8,"t1":-17.7,"n":29},{"t":-17.7,"t1":-17.6,"n":36},{"t":-17.6,"t1":-17.5,"n":45},{"t":-17.5,"t1":-17.4,"n":50},{"t":-17.4,"t1":-17.3,"n":61},{"t":-17.3,"t1":-17.2,"n":60},{"t":-17.2,"t1":-17.1,"n":52},{"t":-17.1,"t1":-17.0,"n":47},{"t":-17.0,"t1":-16.9,"n":38},{"t":-16.9,"t1":-16.8,"n":33},{"t":-16.8,"t1":-16.7,"n":24},{"t":-16.7,"t1":-16.6,"n":17},{"t":-16.6,"t1":-16.5,"n":8},{"t":-16.5,"t1":-16.4,"n":5},{"t":-16.4,"t1":-16.3,"n":3},{"t":-16.3,"t1":-16.2,"n":1},
  {"t":-15.3,"t1":-15.2,"n":1},{"t":-14.4,"t1":-14.3,"n":1},{"t":-13.9,"t1":-13.8,"n":1},{"t":-13.4,"t1":-13.3,"n":1},{"t":-13.2,"t1":-13.1,"n":1},{"t":-12.4,"t1":-12.3,"n":1},{"t":-12.2,"t1":-12.1,"n":1},{"t":-12.0,"t1":-11.9,"n":1},{"t":-11.9,"t1":-11.8,"n":2},{"t":-11.8,"t1":-11.7,"n":4},{"t":-11.7,"t1":-11.6,"n":2},{"t":-11.6,"t1":-11.5,"n":1},{"t":-11.4,"t1":-11.3,"n":1},{"t":-11.2,"t1":-11.1,"n":1},{"t":-6.1,"t1":-6.0,"n":1},
  {"t":-4.9,"t1":-4.8,"n":2},{"t":-4.8,"t1":-4.7,"n":3},{"t":-4.7,"t1":-4.6,"n":5},{"t":-4.6,"t1":-4.5,"n":9},{"t":-4.5,"t1":-4.4,"n":13},{"t":-4.4,"t1":-4.3,"n":18},{"t":-4.3,"t1":-4.2,"n":25},{"t":-4.2,"t1":-4.1,"n":32},{"t":-4.1,"t1":-4.0,"n":37},{"t":-4.0,"t1":-3.9,"n":43},{"t":-3.9,"t1":-3.8,"n":44},{"t":-3.8,"t1":-3.7,"n":37},{"t":-3.7,"t1":-3.6,"n":44},{"t":-3.6,"t1":-3.5,"n":38},{"t":-3.5,"t1":-3.4,"n":30},{"t":-3.4,"t1":-3.3,"n":20},{"t":-3.3,"t1":-3.2,"n":12},{"t":-3.2,"t1":-3.1,"n":6},{"t":-3.1,"t1":-3.0,"n":2},{"t":-3.0,"t1":-2.9,"n":1}
 ],
 "e_fit": [
  {"t":-20,"v":0},{"t":-19,"v":0},{"t":-18.7,"v":0.1},{"t":-18.55,"v":1.0},{"t":-18.45,"v":1.9},{"t":-18.35,"v":3.4},{"t":-18.25,"v":5.8},{"t":-18.15,"v":9.3},{"t":-18.05,"v":14.2},{"t":-17.95,"v":20.5},{"t":-17.85,"v":28.0},{"t":-17.75,"v":36.2},{"t":-17.65,"v":44.2},{"t":-17.55,"v":50.9},{"t":-17.45,"v":55.4},{"t":-17.35,"v":57},{"t":-17.25,"v":55.4},{"t":-17.15,"v":50.9},{"t":-17.05,"v":44.2},{"t":-16.95,"v":36.2},{"t":-16.85,"v":28.0},{"t":-16.75,"v":20.5},{"t":-16.65,"v":14.2},{"t":-16.55,"v":9.3},{"t":-16.45,"v":5.8},{"t":-16.35,"v":3.4},{"t":-16.25,"v":1.9},{"t":-16.15,"v":1.0},{"t":-15.9,"v":0.2},{"t":-15.5,"v":0},
  {"t":-12.8,"v":0},{"t":-12.4,"v":0.8},{"t":-12.2,"v":1.5},{"t":-12.0,"v":2.2},{"t":-11.8,"v":2.5},{"t":-11.6,"v":2.2},{"t":-11.4,"v":1.5},{"t":-11.2,"v":0.8},{"t":-10.8,"v":0},
  {"t":-5.3,"v":0},{"t":-5.05,"v":0.3},{"t":-4.95,"v":0.7},{"t":-4.85,"v":1.4},{"t":-4.75,"v":2.7},{"t":-4.65,"v":4.9},{"t":-4.55,"v":8.3},{"t":-4.45,"v":12.9},{"t":-4.35,"v":18.9},{"t":-4.25,"v":25.9},{"t":-4.15,"v":32.9},{"t":-4.05,"v":39.2},{"t":-3.95,"v":43.5},{"t":-3.85,"v":45},{"t":-3.75,"v":43.5},{"t":-3.65,"v":39.2},{"t":-3.55,"v":32.9},{"t":-3.45,"v":25.9},{"t":-3.35,"v":18.9},{"t":-3.25,"v":12.9},{"t":-3.15,"v":8.3},{"t":-3.05,"v":4.9},{"t":-2.95,"v":2.7},{"t":-2.85,"v":1.4},{"t":-2.75,"v":0.7},{"t":-2.65,"v":0.3},{"t":-2.3,"v":0},{"t":10,"v":0}
 ]
},
"vconcat": [
 {
  "width": 1061, "height": 110,
  "title": {"text": "MCP Signal (MCP_0deg_230MeV_QualPk@2p5mV_20140710-23h0223)", "offset": -1},
  "encoding": {"x": {"field": "t", "type": "quantitative", "scale": {"domain": [-20, 10], "nice": false}, "axis": {"title": "Time [ns]", "values": [-20,-19.5,-19,-18.5,-18,-17.5,-17,-16.5,-16,-15.5,-15,-14.5,-14,-13.5,-13,-12.5,-12,-11.5,-11,-10.5,-10,-9.5,-9,-8.5,-8,-7.5,-7,-6.5,-6,-5.5,-5,-4.5,-4,-3.5,-3,-2.5,-2,-1.5,-1,-0.5,0,0.5,1,1.5,2,2.5,3,3.5,4,4.5,5,5.5,6,6.5,7,7.5,8,8.5,9,9.5,10], "labelExpr": "datum.value % 5 === 0 ? '' + datum.value : ''", "tickOpacity": {"condition": {"test": "datum.value % 5 === 0", "value": 1}, "value": 0}}}},
  "layer": [
   {"data": {"name": "a_pi"}, "mark": {"type": "line", "color": "#c21ed6", "strokeWidth": 1.4, "interpolate": "monotone", "clip": true},
    "encoding": {"y": {"field": "v", "type": "quantitative", "scale": {"domain": [-20, 2], "nice": false}, "axis": {"title": "Signal [mV]", "values": [-20,-19,-18,-17,-16,-15,-14,-13,-12,-11,-10,-9,-8,-7,-6,-5,-4,-3,-2,-1,0,1,2], "labelExpr": "datum.value % 2 === 0 ? '' + datum.value : ''", "tickOpacity": {"condition": {"test": "datum.value % 2 === 0", "value": 1}, "value": 0}}}, "detail": {"field": "i"}}},
   {"data": {"name": "a_ee"}, "mark": {"type": "line", "color": "#7fe92a", "strokeWidth": 3, "interpolate": "monotone", "clip": true},
    "encoding": {"y": {"field": "v", "type": "quantitative", "axis": {"orient": "left", "title": "(a)", "titleAngle": 0, "titleFontSize": 28, "titleAlign": "right", "titleBaseline": "middle", "titlePadding": 73, "labels": false, "ticks": false, "grid": false, "domain": false}}, "detail": {"field": "i"}}}
  ],
  "resolve": {"axis": {"y": "independent"}}
 },
 {
  "width": 1061, "height": 110,
  "title": {"text": "Mean MCP Signals", "offset": -1},
  "encoding": {"x": {"field": "t", "type": "quantitative", "scale": {"domain": [-20, 10], "nice": false}, "axis": {"title": "Time [ns]", "values": [-20,-19.5,-19,-18.5,-18,-17.5,-17,-16.5,-16,-15.5,-15,-14.5,-14,-13.5,-13,-12.5,-12,-11.5,-11,-10.5,-10,-9.5,-9,-8.5,-8,-7.5,-7,-6.5,-6,-5.5,-5,-4.5,-4,-3.5,-3,-2.5,-2,-1.5,-1,-0.5,0,0.5,1,1.5,2,2.5,3,3.5,4,4.5,5,5.5,6,6.5,7,7.5,8,8.5,9,9.5,10], "labelExpr": "datum.value % 5 === 0 ? '' + datum.value : ''", "tickOpacity": {"condition": {"test": "datum.value % 5 === 0", "value": 1}, "value": 0}}}},
  "layer": [
   {"data": {"name": "b_rest"}, "mark": {"type": "line", "strokeWidth": 1.6, "interpolate": "monotone", "clip": true},
    "encoding": {"y": {"field": "v", "type": "quantitative", "scale": {"domain": [-4.3, 2], "nice": false}, "axis": {"title": "Signal [mV]", "values": [-4,-3,-2,-1,0,1,2], "labelExpr": "datum.value % 2 === 0 ? '' + datum.value : ''", "tickOpacity": {"condition": {"test": "datum.value % 2 === 0", "value": 1}, "value": 0}}},
     "color": {"field": "s", "type": "nominal", "scale": {"domain": ["bl", "pi", "mu"], "range": ["#2233aa", "#c21ed6", "#88e6ee"]}, "legend": null}}},
   {"data": {"name": "b_ee"}, "mark": {"type": "line", "color": "#7fe92a", "strokeWidth": 1.6, "interpolate": "monotone", "clip": true},
    "encoding": {"y": {"field": "v", "type": "quantitative", "axis": {"orient": "left", "title": "(b)", "titleAngle": 0, "titleFontSize": 28, "titleAlign": "right", "titleBaseline": "middle", "titlePadding": 73, "labels": false, "ticks": false, "grid": false, "domain": false}}}}
  ],
  "resolve": {"axis": {"y": "independent"}}
 },
 {
  "width": 1061, "height": 109,
  "title": {"text": "Power Spectra of Mean MCP Signals", "offset": -21},
  "encoding": {"x": {"field": "f", "type": "quantitative", "scale": {"domain": [0, 5470], "nice": false}, "axis": {"title": "Frequency [MHz]", "values": [0,100,200,300,400,500,600,700,800,900,1000,1100,1200,1300,1400,1500,1600,1700,1800,1900,2000,2100,2200,2300,2400,2500,2600,2700,2800,2900,3000,3100,3200,3300,3400,3500,3600,3700,3800,3900,4000,4100,4200,4300,4400,4500,4600,4700,4800,4900,5000,5100,5200,5300,5400], "labelExpr": "datum.value % 500 === 0 ? '' + datum.value : ''", "tickOpacity": {"condition": {"test": "datum.value % 500 === 0", "value": 1}, "value": 0}}}},
  "layer": [
   {"data": {"name": "c_rest"}, "mark": {"type": "line", "strokeWidth": 1.4, "interpolate": "monotone", "clip": true},
    "encoding": {"y": {"field": "v", "type": "quantitative", "scale": {"domain": [-0.0095, 0.095], "nice": false, "zero": false}, "axis": {"title": "Power Spectrum [a.u.]", "values": [0,0.01,0.02,0.03,0.04,0.05,0.06,0.07,0.08,0.09], "labelExpr": "abs(round(datum.value*100)) % 2 === 0 ? '' + datum.value : ''", "tickOpacity": {"condition": {"test": "abs(round(datum.value*100)) % 2 === 0", "value": 1}, "value": 0}}},
     "color": {"field": "s", "type": "nominal", "scale": {"domain": ["bl", "pi", "mu"], "range": ["#2233aa", "#c21ed6", "#88e6ee"]}, "legend": null}}},
   {"data": {"name": "c_ee"}, "mark": {"type": "line", "color": "#7fe92a", "strokeWidth": 1.4, "interpolate": "monotone", "clip": true},
    "encoding": {"y": {"field": "v", "type": "quantitative", "axis": {"orient": "left", "title": "(c)", "titleAngle": 0, "titleFontSize": 28, "titleAlign": "right", "titleBaseline": "middle", "titlePadding": 73, "labels": false, "ticks": false, "grid": false, "domain": false}}}}
  ],
  "resolve": {"axis": {"y": "independent"}}
 },
 {
  "width": 1061, "height": 111,
  "title": {"text": "PSI 50MHz Trigger", "offset": 6},
  "encoding": {"x": {"field": "t", "type": "quantitative", "scale": {"domain": [-20, 10], "nice": false}, "axis": {"title": "Time [ns]", "values": [-20,-19.5,-19,-18.5,-18,-17.5,-17,-16.5,-16,-15.5,-15,-14.5,-14,-13.5,-13,-12.5,-12,-11.5,-11,-10.5,-10,-9.5,-9,-8.5,-8,-7.5,-7,-6.5,-6,-5.5,-5,-4.5,-4,-3.5,-3,-2.5,-2,-1.5,-1,-0.5,0,0.5,1,1.5,2,2.5,3,3.5,4,4.5,5,5.5,6,6.5,7,7.5,8,8.5,9,9.5,10], "labelExpr": "datum.value % 5 === 0 ? '' + datum.value : ''", "tickOpacity": {"condition": {"test": "datum.value % 5 === 0", "value": 1}, "value": 0}}}},
  "layer": [
   {"data": {"name": "d_pi"}, "mark": {"type": "line", "color": "#c21ed6", "strokeWidth": 11, "interpolate": "monotone", "clip": true},
    "encoding": {"y": {"field": "v", "type": "quantitative", "scale": {"domain": [-0.8, 0.005], "nice": false, "zero": false}, "axis": {"title": "Signal [V]", "values": [-0.8,-0.7,-0.6,-0.5,-0.4,-0.3,-0.2,-0.1], "labelExpr": "abs(round(datum.value*10)) % 2 === 0 ? '' + datum.value : ''", "tickOpacity": {"condition": {"test": "abs(round(datum.value*10)) % 2 === 0", "value": 1}, "value": 0}}}, "detail": {"field": "i"}}},
   {"data": {"name": "d_mu"}, "mark": {"type": "line", "color": "#88e6ee", "strokeWidth": 1.4, "interpolate": "monotone", "clip": true},
    "encoding": {"y": {"field": "v", "type": "quantitative", "axis": null}, "detail": {"field": "i"}}},
   {"data": {"name": "d_bl"}, "mark": {"type": "line", "color": "#2a2ab8", "strokeWidth": 1.2, "interpolate": "monotone", "clip": true},
    "encoding": {"y": {"field": "v", "type": "quantitative", "axis": null}, "detail": {"field": "i"}}},
   {"data": {"name": "d_ee"}, "mark": {"type": "line", "color": "#7fe92a", "strokeWidth": 9, "interpolate": "monotone", "clip": true},
    "encoding": {"y": {"field": "v", "type": "quantitative", "axis": {"orient": "left", "title": "(d)", "titleAngle": 0, "titleFontSize": 28, "titleAlign": "right", "titleBaseline": "middle", "titlePadding": 73, "labels": false, "ticks": false, "grid": false, "domain": false}}, "detail": {"field": "i"}}}
  ],
  "resolve": {"axis": {"y": "independent"}}
 },
 {
  "width": 1061, "height": 111,
  "title": {"text": "Peak Delays (measured and expected)", "offset": 4},
  "encoding": {"x": {"field": "t", "type": "quantitative", "scale": {"domain": [-20, 10], "nice": false}, "axis": {"title": "Time [ns]", "values": [-20,-19.5,-19,-18.5,-18,-17.5,-17,-16.5,-16,-15.5,-15,-14.5,-14,-13.5,-13,-12.5,-12,-11.5,-11,-10.5,-10,-9.5,-9,-8.5,-8,-7.5,-7,-6.5,-6,-5.5,-5,-4.5,-4,-3.5,-3,-2.5,-2,-1.5,-1,-0.5,0,0.5,1,1.5,2,2.5,3,3.5,4,4.5,5,5.5,6,6.5,7,7.5,8,8.5,9,9.5,10], "labelExpr": "datum.value % 5 === 0 ? '' + datum.value : ''", "tickOpacity": {"condition": {"test": "datum.value % 5 === 0", "value": 1}, "value": 0}}}},
  "layer": [
   {"data": {"name": "e_rules"}, "mark": {"type": "rule", "strokeWidth": 3},
    "encoding": {"color": {"field": "p", "type": "nominal", "scale": {"domain": ["ee", "pi", "mu"], "range": ["#7fe92a", "#c21ed6", "#88e6ee"]}, "legend": {"title": null, "orient": "top-right", "offset": 12, "strokeColor": "#333333", "fillColor": "#ffffff", "padding": 4, "symbolType": "stroke", "symbolStrokeWidth": 3, "symbolSize": 1764, "clipHeight": 16, "labelFontSize": 12, "labelFont": "Liberation Sans", "labelColor": "#262626", "rowPadding": 2.5, "labelOffset": 2}}}},
   {"data": {"name": "e_hist"}, "mark": {"type": "rect", "color": "#0a0af0", "stroke": "#0a0af0", "strokeWidth": 0.6, "clip": true},
    "encoding": {"x2": {"field": "t1"}, "y": {"field": "n", "type": "quantitative", "scale": {"domain": [0, 67], "nice": false}, "axis": {"title": "Counts", "values": [0,10,20,30,40,50,60], "labelExpr": "datum.value % 20 === 0 ? '' + datum.value : ''", "tickOpacity": {"condition": {"test": "datum.value % 20 === 0", "value": 1}, "value": 0}}}, "y2": {"datum": 0}}},
   {"data": {"name": "e_fit"}, "mark": {"type": "line", "color": "#c8332b", "strokeWidth": 1.2, "interpolate": "monotone", "clip": true},
    "encoding": {"y": {"field": "v", "type": "quantitative", "axis": {"orient": "left", "title": "(e)", "titleAngle": 0, "titleFontSize": 28, "titleAlign": "right", "titleBaseline": "middle", "titlePadding": 73, "labels": false, "ticks": false, "grid": false, "domain": false}}}}
  ],
  "resolve": {"axis": {"y": "independent"}}
 }
]
}
